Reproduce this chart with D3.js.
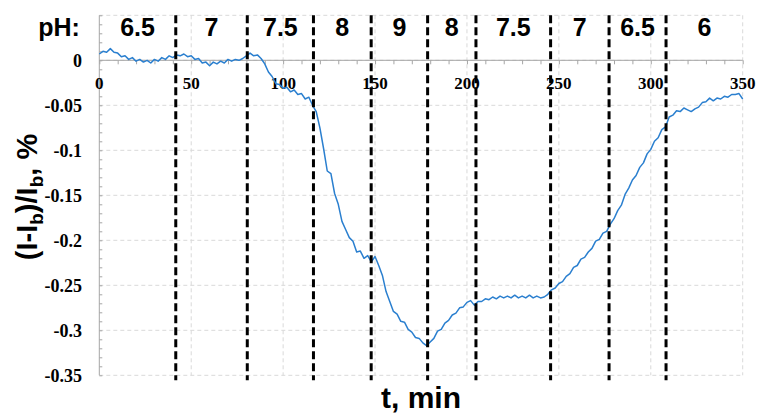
<!DOCTYPE html>
<html>
<head>
<meta charset="utf-8">
<script src="https://cdn.jsdelivr.net/npm/d3@7/dist/d3.min.js"></script>
<style>
  html, body { margin: 0; padding: 0; background: #fff; }
  svg { display: block; }
</style>
</head>
<body>
<svg id="chart" width="758" height="414"></svg>
<script>
// ---- data ----
const times = [0,2,4,6,8,10,12,14,16,18,20,22,24,26,28,30,32,34,36,38,40,42,44,46,48,50,52,54,56,58,60,62,64,66,68,70,72,74,76,78,80,82,84,86,88,90,92,94,96,98,100,102,104,106,108,110,112,114,116,118,120,122,124,126,128,130,132,134,136,138,140,142,144,146,148,150,152,154,156,158,160,162,164,166,168,170,172,174,176,178,180,182,184,186,188,190,192,194,196,198,200,202,204,206,208,210,212,214,216,218,220,222,224,226,228,230,232,234,236,238,240,242,244,246,248,250,252,254,256,258,260,262,264,266,268,270,272,274,276,278,280,282,284,286,288,290,292,294,296,298,300,302,304,306,308,310,312,314,316,318,320,322,324,326,328,330,332,334,336,338,340,342,344,346,348,350];
const signal = [0.007,0.010,0.009,0.013,0.009,0.008,0.004,0.005,0.001,0.003,-0.001,0.001,-0.002,0.000,-0.003,0.001,-0.001,0.003,0.001,0.005,0.003,0.006,0.005,0.007,0.004,0.005,0.001,0.002,-0.003,-0.002,-0.006,-0.002,-0.004,-0.001,-0.003,0.001,-0.001,0.001,0.000,0.002,0.005,0.008,0.005,0.006,0.002,-0.004,-0.013,-0.018,-0.026,-0.027,-0.031,-0.030,-0.035,-0.033,-0.038,-0.037,-0.043,-0.041,-0.050,-0.057,-0.075,-0.098,-0.123,-0.126,-0.148,-0.160,-0.179,-0.188,-0.197,-0.201,-0.213,-0.212,-0.220,-0.217,-0.224,-0.218,-0.228,-0.239,-0.257,-0.268,-0.279,-0.282,-0.290,-0.291,-0.299,-0.302,-0.308,-0.309,-0.314,-0.317,-0.313,-0.309,-0.301,-0.299,-0.292,-0.289,-0.283,-0.281,-0.275,-0.274,-0.269,-0.267,-0.272,-0.268,-0.268,-0.265,-0.266,-0.263,-0.265,-0.262,-0.264,-0.262,-0.264,-0.261,-0.264,-0.262,-0.264,-0.261,-0.264,-0.262,-0.264,-0.263,-0.260,-0.255,-0.253,-0.248,-0.246,-0.240,-0.237,-0.230,-0.228,-0.221,-0.219,-0.213,-0.209,-0.201,-0.199,-0.192,-0.190,-0.182,-0.176,-0.167,-0.161,-0.149,-0.142,-0.133,-0.128,-0.119,-0.114,-0.104,-0.099,-0.090,-0.086,-0.077,-0.074,-0.063,-0.061,-0.056,-0.057,-0.053,-0.055,-0.057,-0.054,-0.052,-0.047,-0.046,-0.042,-0.045,-0.042,-0.043,-0.040,-0.041,-0.038,-0.038,-0.037,-0.043];
const phBoundaries = [41.6, 80.5, 116.5, 147.9, 178.6, 204.9, 245.5, 277.3, 308.3];
const phLabels = ["6.5","7","7.5","8","9","8","7.5","7","6.5","6"];
const xTicks = [0,50,100,150,200,250,300,350];
const yTicks = [0,-0.05,-0.1,-0.15,-0.2,-0.25,-0.3,-0.35];

(function () {
// ---- layout ----
const svg = d3.select("#chart");
const pL = 99.3, pR = 742.7, pT = 15.3, pB = 375.3;
const x = d3.scaleLinear().domain([0, 350]).range([pL, pR]);
const y = d3.scaleLinear().domain([-0.35, 0.05]).range([pB, pT]);

const gridColor = "#d9d9d9";
const axisColor = "#a6a6a6";

// horizontal gridlines (dashed)
svg.append("g").selectAll("line")
  .data(yTicks.concat([0.05]))
  .join("line")
  .attr("x1", pL).attr("x2", pR)
  .attr("y1", d => y(d)).attr("y2", d => y(d))
  .attr("stroke", gridColor).attr("stroke-width", 1)
  .attr("stroke-dasharray", "4,3");

// vertical gridlines (dashed)
svg.append("g").selectAll("line")
  .data(xTicks.filter(d => d > 0))
  .join("line")
  .attr("x1", d => x(d)).attr("x2", d => x(d))
  .attr("y1", pT).attr("y2", pB)
  .attr("stroke", gridColor).attr("stroke-width", 1)
  .attr("stroke-dasharray", "4,3");

// y axis (left) with inside ticks, minor ticks every 0.01
const yAxis = d3.axisRight(y)
  .tickValues(d3.range(-35, 6).map(d => d / 100))
  .tickSize(3).tickFormat("");
const gy = svg.append("g").attr("transform", `translate(${pL},0)`).call(yAxis);
gy.select(".domain").attr("stroke", axisColor).attr("d", `M0,${pT}V${pB}`);
gy.selectAll(".tick line").attr("stroke", axisColor);

// y tick labels
svg.append("g").selectAll("text")
  .data(yTicks)
  .join("text")
  .attr("x", 82).attr("y", d => y(d))
  .attr("dy", "0.35em")
  .attr("text-anchor", "end")
  .attr("font-family", "'Liberation Serif', 'Times New Roman', serif")
  .attr("font-weight", "bold")
  .attr("font-size", 18)
  .text(d => d === 0 ? "0" : String(d));

// x axis at y=0
const xAxis = d3.axisBottom(x)
  .tickValues(d3.range(0, 351, 10))
  .tickSize(4).tickFormat("");
const gx = svg.append("g").attr("transform", `translate(0,${y(0)})`).call(xAxis);
gx.select(".domain").attr("stroke", axisColor).attr("d", `M${pL},0H${pR}`);
gx.selectAll(".tick line").attr("stroke", axisColor);

svg.append("g").selectAll("text")
  .data(xTicks)
  .join("text")
  .attr("x", d => x(d)).attr("y", 89)
  .attr("text-anchor", "middle")
  .attr("font-family", "'Liberation Serif', 'Times New Roman', serif")
  .attr("font-weight", "bold")
  .attr("font-size", 17)
  .text(d => d);

// data line
const pts = times.map((t, i) => [t, signal[i]]);
svg.append("path")
  .datum(pts)
  .attr("fill", "none")
  .attr("stroke", "#2a7fcf")
  .attr("stroke-width", 1.5)
  .attr("stroke-linejoin", "round")
  .attr("d", d3.line().x(d => x(d[0])).y(d => y(d[1])));

// pH boundary dashed lines
svg.append("g").selectAll("line")
  .data(phBoundaries)
  .join("line")
  .attr("x1", d => x(d)).attr("x2", d => x(d))
  .attr("y1", pT).attr("y2", pB + 5)
  .attr("stroke", "#000").attr("stroke-width", 3)
  .attr("stroke-dasharray", "8,4");

// pH labels
const edges = [0].concat(phBoundaries, [350]);
svg.append("g").selectAll("text")
  .data(phLabels)
  .join("text")
  .attr("x", (d, i) => x((edges[i] + edges[i + 1]) / 2))
  .attr("y", 36)
  .attr("text-anchor", "middle")
  .attr("font-family", "'Liberation Sans', Arial, sans-serif")
  .attr("font-weight", "bold")
  .attr("font-size", 25)
  .text(d => d);

svg.append("text")
  .attr("x", 59).attr("y", 36)
  .attr("text-anchor", "middle")
  .attr("font-family", "'Liberation Sans', Arial, sans-serif")
  .attr("font-weight", "bold")
  .attr("font-size", 25)
  .text("pH:");

// axis titles
svg.append("text")
  .attr("x", (pL + pR) / 2).attr("y", 408)
  .attr("text-anchor", "middle")
  .attr("font-family", "'Liberation Sans', Arial, sans-serif")
  .attr("font-weight", "bold")
  .attr("font-size", 30)
  .text("t, min");

const yt = svg.append("text")
  .attr("transform", "translate(37,197) rotate(-90)")
  .attr("text-anchor", "middle")
  .attr("font-family", "'Liberation Sans', Arial, sans-serif")
  .attr("font-weight", "bold")
  .attr("font-size", 29);
yt.append("tspan").text("(I-I");
yt.append("tspan").attr("font-size", 19).attr("dy", 6).text("b");
yt.append("tspan").attr("dy", -6).text(")/I");
yt.append("tspan").attr("font-size", 19).attr("dy", 6).text("b");
yt.append("tspan").attr("dy", -6).text(", %");
})();
</script>
</body>
</html>
